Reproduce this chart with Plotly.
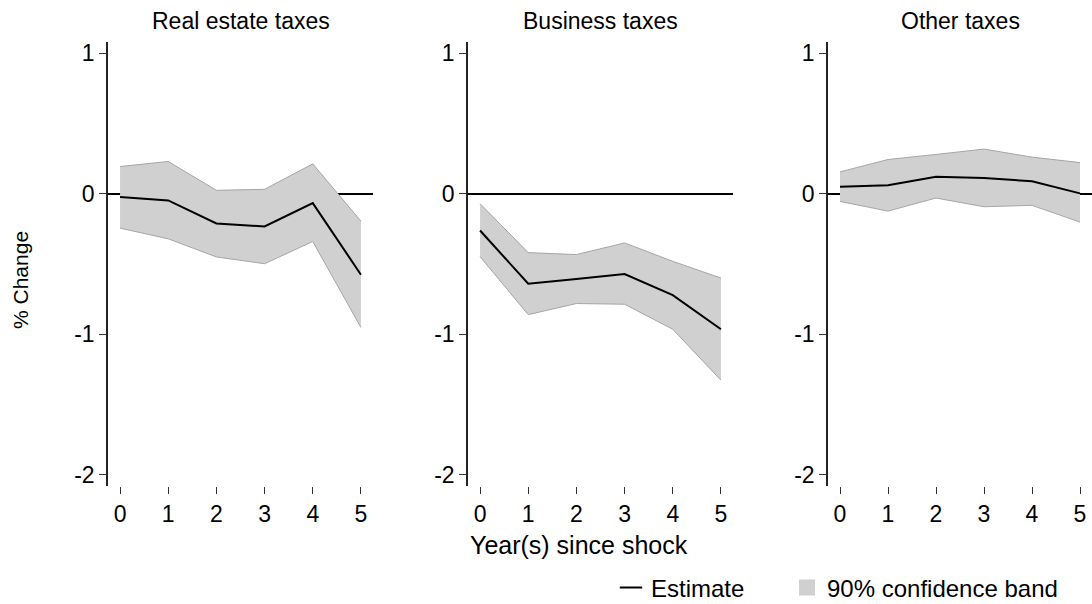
import plotly.graph_objects as go

years = [0, 1, 2, 3, 4, 5]
panel_titles = ["Real estate taxes", "Business taxes", "Other taxes"]

real_estate_est = [-0.024, -0.048, -0.212, -0.233, -0.067, -0.576]
real_estate_hi = [0.193, 0.229, 0.024, 0.031, 0.212, -0.195]
real_estate_lo = [-0.245, -0.321, -0.450, -0.498, -0.340, -0.952]

business_est = [-0.262, -0.640, -0.607, -0.571, -0.721, -0.964]
business_hi = [-0.071, -0.419, -0.433, -0.350, -0.481, -0.600]
business_lo = [-0.448, -0.860, -0.781, -0.786, -0.964, -1.326]

other_est = [0.050, 0.060, 0.121, 0.112, 0.088, 0.002]
other_hi = [0.155, 0.243, 0.279, 0.317, 0.260, 0.221]
other_lo = [-0.055, -0.124, -0.031, -0.093, -0.083, -0.202]

y_ticks = [1, 0, -1, -2]
y_ticktext = ["1", "0", "-1", "-2"]
x_title = "Year(s) since shock"
y_title = "% Change"
legend_labels = ["Estimate", "90% confidence band"]

FONT = "Liberation Sans, Arial, sans-serif"
BAND = "#d0d0d0"
EDGE = "#a6a6a6"

series = [
    (real_estate_est, real_estate_hi, real_estate_lo),
    (business_est, business_hi, business_lo),
    (other_est, other_hi, other_lo),
]

fig = go.Figure()
for i, (est, hi, lo) in enumerate(series):
    sfx = "" if i == 0 else str(i + 1)
    xa, ya = "x" + sfx, "y" + sfx
    fig.add_trace(go.Scatter(x=years, y=hi, mode="lines", line=dict(color=EDGE, width=1),
                             xaxis=xa, yaxis=ya, showlegend=False, hoverinfo="skip"))
    fig.add_trace(go.Scatter(x=years, y=lo, mode="lines", line=dict(color=EDGE, width=1),
                             fill="tonexty", fillcolor=BAND,
                             xaxis=xa, yaxis=ya, showlegend=False, hoverinfo="skip"))
    fig.add_trace(go.Scatter(x=years, y=est, mode="lines", line=dict(color="black", width=2),
                             xaxis=xa, yaxis=ya, showlegend=False))

# legend entries (two separate legends for exact spacing)
fig.add_trace(go.Scatter(x=[None], y=[None], mode="markers", name=legend_labels[0], legend="legend",
                         marker=dict(symbol="line-ew", size=16, line=dict(color="black", width=2))))
fig.add_trace(go.Scatter(x=[None], y=[None], mode="markers", name=legend_labels[1], legend="legend2",
                         marker=dict(symbol="square", size=22, color=BAND)))

W, H = 1092, 604
L, R, T, B = 108, 0, 42, 118
pw = W - L - R
ph = H - T - B
domains = [[0, 265 / pw], [360 / pw, 625 / pw], [720 / pw, 1.0]]

for i in range(3):
    sfx = "" if i == 0 else str(i + 1)
    fig.layout["xaxis" + sfx] = dict(
        domain=domains[i], range=[-0.25, 5.25], tickvals=years,
        showline=False, showgrid=False, zeroline=False, automargin=False,
        ticks="outside", ticklen=7, tickcolor="#333", tickwidth=1,
        tickfont=dict(size=23, color="black", family=FONT),
        anchor="y" + sfx,
    )
    fig.layout["yaxis" + sfx] = dict(
        domain=[0, 1], range=[-2.0786, 1.0786], tickvals=y_ticks, ticktext=y_ticktext,
        showline=True, linecolor="#222", linewidth=1.5, showgrid=False, automargin=False,
        zeroline=True, zerolinecolor="black", zerolinewidth=1.5,
        ticks="outside", ticklen=7, tickcolor="#333", tickwidth=1,
        tickfont=dict(size=23, color="black", family=FONT),
        anchor="x" + sfx,
    )
    fig.add_annotation(text=panel_titles[i], xref="paper", yref="paper",
                       x=(domains[i][0] + domains[i][1]) / 2, y=(H - B - 21) / ph,
                       xanchor="center", yanchor="middle", showarrow=False,
                       font=dict(size=23, color="black", family=FONT))

fig.add_annotation(text=x_title, xref="paper", yref="paper", x=(579 - L) / pw, y=(H - B - 545) / ph,
                   xanchor="center", yanchor="middle", showarrow=False,
                   font=dict(size=25, color="black", family=FONT))
fig.add_annotation(text=y_title, xref="paper", yref="paper", x=(20 - L) / pw, y=(H - B - 280) / ph,
                   xanchor="center", yanchor="middle", showarrow=False, textangle=-90,
                   font=dict(size=21, color="black", family=FONT))

legend_common = dict(orientation="h", xref="container", yref="container",
                     xanchor="left", y=1 - 588 / H, yanchor="middle",
                     font=dict(size=24, color="black", family=FONT), itemwidth=30,
                     bgcolor="rgba(0,0,0,0)", borderwidth=0)

fig.update_layout(
    template="none",
    width=W, height=H, autosize=False,
    margin=dict(l=L, r=R, t=T, b=B, autoexpand=False),
    plot_bgcolor="white", paper_bgcolor="white",
    font=dict(family=FONT, color="black"),
    showlegend=True,
    legend=dict(x=611 / W, **legend_common),
    legend2=dict(x=787 / W, **legend_common),
)

fig.write_html("out.html", config={"displayModeBar": False},
               post_script="document.body.style.margin='0';")
